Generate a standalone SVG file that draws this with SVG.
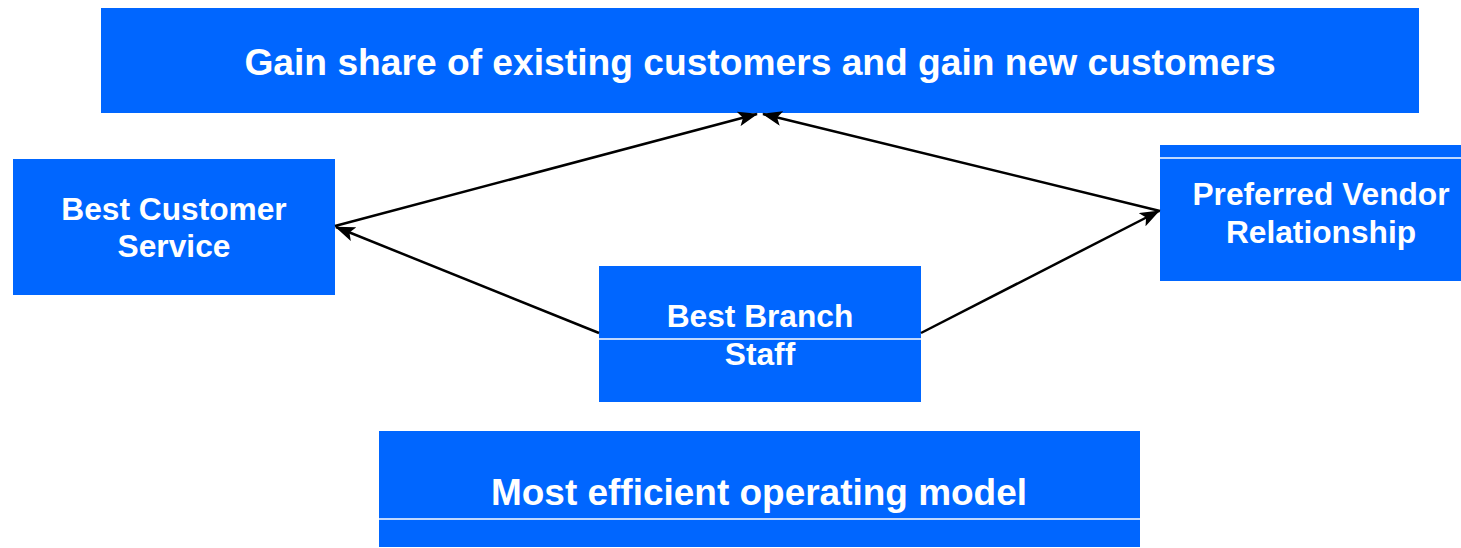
<svg xmlns="http://www.w3.org/2000/svg" width="1461" height="548" viewBox="0 0 1461 548">
<style>
.box{fill:#0066FF}
.sep{stroke:#FFFFFF;stroke-width:1.5}
.t{font-family:"Liberation Sans",Arial,sans-serif;font-weight:bold;fill:#FFFFFF;text-anchor:middle}
.m{font-size:31.7px}
.c{stroke:#000000;stroke-width:2.5;fill:none;marker-end:url(#ah)}
</style>
<defs>
<marker id="ah" markerWidth="20" markerHeight="15" refX="19" refY="7.5" orient="auto" markerUnits="userSpaceOnUse" viewBox="0 0 20 15">
<path d="M0,0 L20,7.5 L0,15 L4.5,7.5 Z" fill="#000000"/>
</marker>
</defs>
<g id="node-top">
<rect class="box" x="101" y="8" width="1318" height="105"/>
<text class="t" x="760" y="75" font-size="37.2">Gain share of existing customers and gain new customers</text>
</g>
<g id="node-left">
<rect class="box" x="13" y="159" width="322" height="136"/>
<text class="t m" x="174" y="220">Best Customer</text>
<text class="t m" x="174" y="257">Service</text>
</g>
<g id="node-right">
<rect class="box" x="1160" y="145" width="301" height="136"/>
<line class="sep" x1="1160" y1="158" x2="1461" y2="158"/>
<text class="t m" x="1321" y="205">Preferred Vendor</text>
<text class="t m" x="1321" y="243">Relationship</text>
</g>
<g id="node-center">
<rect class="box" x="599" y="266" width="322" height="136"/>
<line class="sep" x1="599" y1="339" x2="921" y2="339"/>
<text class="t m" x="760" y="327">Best Branch</text>
<text class="t m" x="760" y="365">Staff</text>
</g>
<g id="node-bottom">
<rect class="box" x="379" y="431" width="761" height="116"/>
<line class="sep" x1="379" y1="519" x2="1140" y2="519"/>
<text class="t" x="759" y="505" font-size="37" textLength="536" lengthAdjust="spacingAndGlyphs">Most efficient operating model</text>
</g>
<g id="connectors">
<line class="c" x1="599" y1="333" x2="336" y2="227"/>
<line class="c" x1="921" y1="333" x2="1159" y2="211"/>
<line class="c" x1="335" y1="226" x2="757" y2="114"/>
<line class="c" x1="1160" y1="211" x2="763" y2="114"/>
</g>
</svg>
